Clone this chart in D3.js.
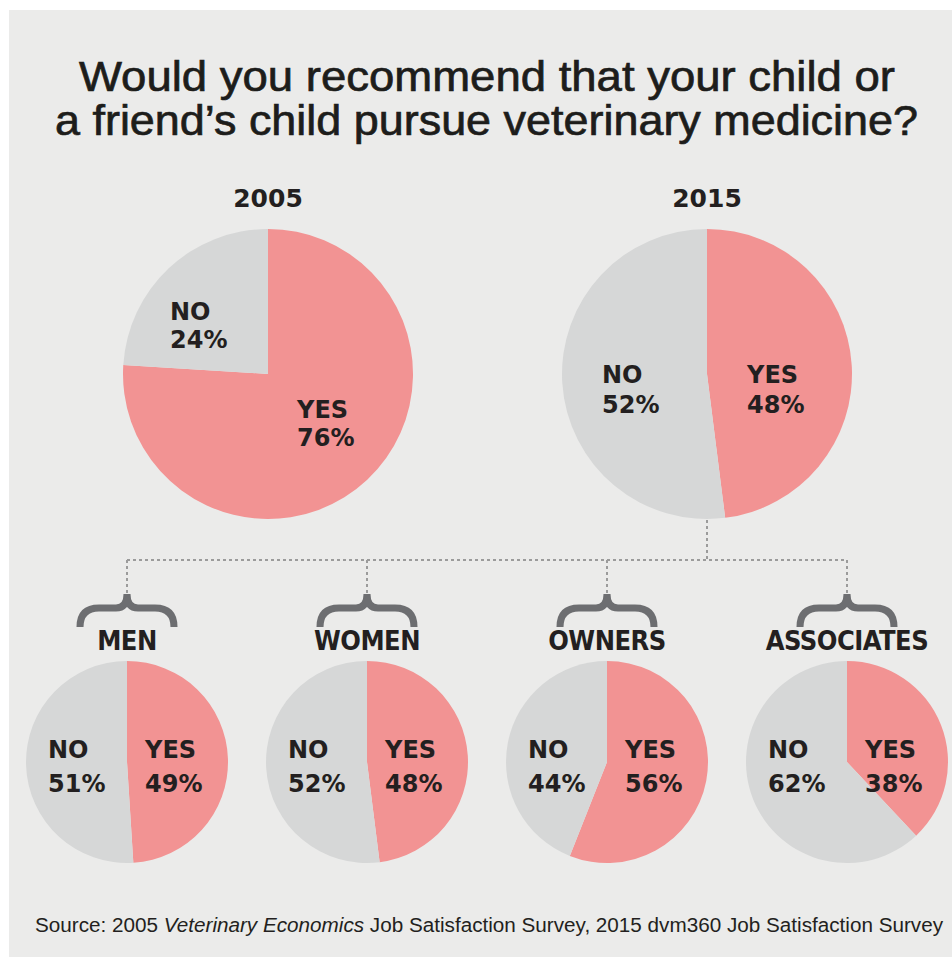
<!DOCTYPE html>
<html>
<head>
<meta charset="utf-8">
<script src="https://cdn.jsdelivr.net/npm/d3@7"></script>
<style>
  body { margin: 0; background: #fff; }
  svg { display: block; }
</style>
</head>
<body>
<div id="root"></div>
<script>
// data
const answers = ['YES', 'NO'];
const years = ['2005', '2015'];
const yearValues = [[76, 24], [48, 52]];
const groups = ['MEN', 'WOMEN', 'OWNERS', 'ASSOCIATES'];
const groupValues = [[49, 51], [48, 52], [56, 44], [38, 62]];
const titleLines = ['Would you recommend that your child or', 'a friend\u2019s child pursue veterinary medicine?'];

const w = 952;
const h = 957;
const colors = d3.scaleOrdinal().domain(answers).range(['#f29393', '#d6d7d7']);

const svg = d3.select('#root')
  .append('svg')
  .attr('width', w)
  .attr('height', h);

// sfondo
svg.append('rect')
  .attr('x', 9)
  .attr('y', 10)
  .attr('width', w - 9)
  .attr('height', h - 10)
  .attr('fill', '#ebebea');

// titolo
svg.selectAll('.title')
  .data(titleLines)
  .enter()
  .append('text')
  .attr('class', 'title')
  .attr('x', (d, i) => i === 0 ? 79 : 55)
  .attr('y', (d, i) => 91 + i * 44)
  .attr('textLength', (d, i) => i === 0 ? 816 : 863)
  .attr('lengthAdjust', 'spacingAndGlyphs')
  .style('font-family', 'Liberation Sans, Arial, sans-serif')
  .style('font-size', '42px')
  .style('fill', '#1d1d1b')
  .style('stroke', '#1d1d1b')
  .style('stroke-width', 0.7)
  .text(d => d);

const pie = d3.pie().sort(null).value(d => d);
const labelFont = 'DejaVu Sans, sans-serif';

function drawPie(cx, cy, r, values, lab) {
  const g = svg.append('g').attr('transform', `translate(${cx}, ${cy})`);
  const arc = d3.arc().innerRadius(0).outerRadius(r);
  g.selectAll('path')
    .data(pie(values))
    .enter()
    .append('path')
    .attr('d', arc)
    .attr('fill', (d, i) => colors(answers[i]));

  // etichette
  answers.forEach((a, i) => {
    const t = g.append('text')
      .attr('x', lab[i][0])
      .attr('y', lab[i][1])
      .style('font-family', labelFont)
      .style('font-weight', 'bold')
      .style('font-size', '24px')
      .style('fill', '#231f20');
    t.append('tspan').attr('x', lab[i][0]).text(a);
    t.append('tspan').attr('x', lab[i][0]).attr('dy', lab[2]).text(values[i] + '%');
  });
}

// torte grandi
const xBig = d3.scalePoint().domain(years).range([268, 707]);
const bigLabels = [
  [[29, 44], [-98, -54], 28],
  [[40, 9], [-105, 9], 30]
];
years.forEach((y, i) => {
  svg.append('text')
    .attr('x', xBig(y))
    .attr('y', 207)
    .attr('text-anchor', 'middle')
    .style('font-family', labelFont)
    .style('font-weight', 'bold')
    .style('font-size', '25px')
    .style('fill', '#231f20')
    .text(y);
  drawPie(xBig(y), 374, 145, yearValues[i], bigLabels[i]);
});

// linee tratteggiate
const xSmall = d3.scalePoint().domain(groups).range([127, 847]);
const dotted = svg.append('g')
  .attr('stroke', '#9b9b9b')
  .attr('stroke-width', 2)
  .attr('stroke-dasharray', '3,3')
  .attr('fill', 'none');
dotted.append('line')
  .attr('x1', xSmall(groups[0])).attr('x2', xSmall(groups[groups.length - 1]))
  .attr('y1', 560).attr('y2', 560);
dotted.append('line')
  .attr('x1', xBig('2015')).attr('x2', xBig('2015'))
  .attr('y1', 520).attr('y2', 560);
dotted.selectAll('.drop')
  .data(groups)
  .enter()
  .append('line')
  .attr('class', 'drop')
  .attr('x1', d => xSmall(d)).attr('x2', d => xSmall(d))
  .attr('y1', 560).attr('y2', 594);

// parentesi graffe
svg.selectAll('.brace')
  .data(groups)
  .enter()
  .append('path')
  .attr('class', 'brace')
  .attr('d', d => {
    const x = xSmall(d);
    return `M${x - 47},627 Q${x - 47},608 ${x - 28},608 L${x - 11},608 Q${x},608 ${x},594 `
      + `Q${x},608 ${x + 11},608 L${x + 28},608 Q${x + 47},608 ${x + 47},627`;
  })
  .attr('fill', 'none')
  .attr('stroke', '#6d6e71')
  .attr('stroke-width', 7);

svg.selectAll('.group')
  .data(groups)
  .enter()
  .append('text')
  .attr('class', 'group')
  .attr('x', d => xSmall(d))
  .attr('y', 650)
  .attr('text-anchor', 'middle')
  .style('font-family', 'DejaVu Sans Condensed, DejaVu Sans, sans-serif')
  .style('font-stretch', 'condensed')
  .style('font-weight', 'bold')
  .style('font-size', '27px')
  .style('letter-spacing', '-0.5px')
  .style('fill', '#231f20')
  .text(d => d);

// torte piccole
groups.forEach((g, i) => {
  drawPie(xSmall(g), 762, 101, groupValues[i], [[18, -4], [-79, -4], 34]);
});

// fonte
const src = svg.append('text')
  .attr('x', 35)
  .attr('y', 932)
  .attr('textLength', 908)
  .attr('lengthAdjust', 'spacingAndGlyphs')
  .style('font-family', 'Liberation Sans, Arial, sans-serif')
  .style('font-size', '20px')
  .style('fill', '#231f20');
src.append('tspan').text('Source: 2005 ');
src.append('tspan').style('font-style', 'italic').text('Veterinary Economics');
src.append('tspan').text(' Job Satisfaction Survey, 2015 dvm360 Job Satisfaction Survey');
</script>
</body>
</html>
